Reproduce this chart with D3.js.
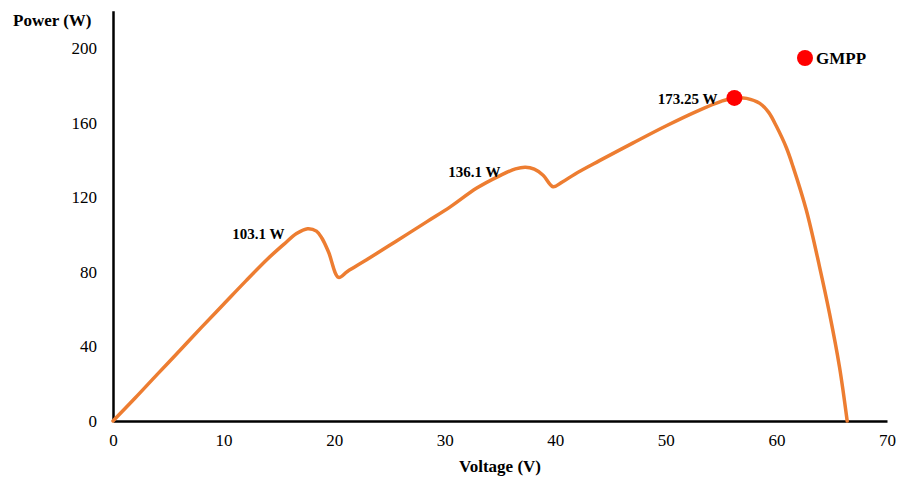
<!DOCTYPE html>
<html>
<head>
<meta charset="utf-8">
<script src="https://cdn.jsdelivr.net/npm/d3@7"></script>
<style>
  html, body { margin: 0; padding: 0; background: #fff; }
  svg { display: block; font-family: "Liberation Serif", "Times New Roman", serif; }
</style>
</head>
<body>
<svg id="chart" width="898" height="479"></svg>
<script>
// P-V characteristic of a partially shaded PV array
const voltage = [0, 2, 4, 6, 8, 10, 12, 14, 15.5, 16.6, 17.6, 18.4, 18.9, 19.5, 20.4,
  21.2, 22.9, 25.5, 28.4, 30.5, 32.9, 35, 36.4, 37.3, 38.1, 38.9, 39.8,
  40.6, 41.8, 44, 47, 50, 53, 55, 56.2,
  57.3, 58.5, 59.3, 60, 60.9, 61.5, 62.7, 63.9, 64.8, 65.7, 66.4];
const power = [0, 12.3, 25, 37.5, 50.2, 62.6, 75, 87, 95, 100.5, 103.1, 101.8, 98, 90.5, 77,
  80.2, 86.3, 96, 106.9, 114.8, 124.9, 131.6, 135.2, 136.1, 135, 131.8, 125.6,
  128, 132.5, 139.6, 149, 158.2, 166.6, 171.4, 173.25,
  173, 170.3, 165.5, 158, 146.5, 136.4, 113.1, 82.7, 57.7, 29.1, 0];

// Local maxima annotated on the curve (index into the arrays above)
const peakIndex = [10, 23, 34];
const peakLabels = ["103.1 W", "136.1 W", "173.25 W"];
const gmppIndex = 34;

const xTicks = [0, 10, 20, 30, 40, 50, 60, 70];
const yTicks = [0, 40, 80, 120, 160, 200];

const svg = d3.select("#chart");
const x = d3.scaleLinear().domain([0, 70]).range([113, 887]);
const y = d3.scaleLinear().domain([0, 220]).range([421, 10.7]);

// Axes: plain lines with tick labels, no tick marks
const xAxis = svg.append("g").attr("transform", `translate(0,${y(0)})`)
  .call(d3.axisBottom(x).tickValues(xTicks).tickSize(0).tickPadding(13));
xAxis.select(".domain").attr("stroke", "#000").attr("stroke-width", 2.5);
xAxis.selectAll("text").attr("font-size", 17).attr("font-family", "Liberation Serif").attr("fill", "#000");

const yAxis = svg.append("g").attr("transform", `translate(${x(0)},0)`)
  .call(d3.axisLeft(y).tickValues(yTicks).tickSize(0).tickPadding(16));
yAxis.select(".domain").attr("stroke", "#000").attr("stroke-width", 2.5);
yAxis.selectAll("text").attr("font-size", 17).attr("font-family", "Liberation Serif").attr("fill", "#000");

// Axis titles
svg.append("text").attr("x", 13).attr("y", 26)
  .attr("font-size", 17).attr("font-weight", "bold").text("Power (W)");
svg.append("text").attr("x", 500).attr("y", 472).attr("text-anchor", "middle")
  .attr("font-size", 17).attr("font-weight", "bold").text("Voltage (V)");

// P-V curve
const pts = voltage.map((v, i) => [v, power[i]]);
const line = d3.line().x(d => x(d[0])).y(d => y(d[1])).curve(d3.curveCatmullRom.alpha(0.5));
svg.append("path").datum(pts)
  .attr("d", line)
  .attr("fill", "none")
  .attr("stroke", "#ED7D31")
  .attr("stroke-width", 3.5)
  .attr("stroke-linejoin", "round")
  .attr("stroke-linecap", "round");

// Peak annotations
const labelOffset = [[-23, 5], [-25, 5], [-17, 1]];
peakIndex.forEach((idx, k) => {
  svg.append("text")
    .attr("x", x(voltage[idx]) + labelOffset[k][0])
    .attr("y", y(power[idx]) + labelOffset[k][1])
    .attr("dy", "0.35em")
    .attr("text-anchor", "end")
    .attr("font-size", 15)
    .attr("font-weight", "bold")
    .text(peakLabels[k]);
});

// Global maximum power point marker
svg.append("circle")
  .attr("cx", x(voltage[gmppIndex])).attr("cy", y(power[gmppIndex]))
  .attr("r", 8).attr("fill", "#FF0000");

// Legend
svg.append("circle").attr("cx", 805).attr("cy", 58).attr("r", 8).attr("fill", "#FF0000");
svg.append("text").attr("x", 816).attr("y", 58).attr("dy", "0.35em")
  .attr("font-size", 17).attr("font-weight", "bold").text("GMPP");
</script>
</body>
</html>
